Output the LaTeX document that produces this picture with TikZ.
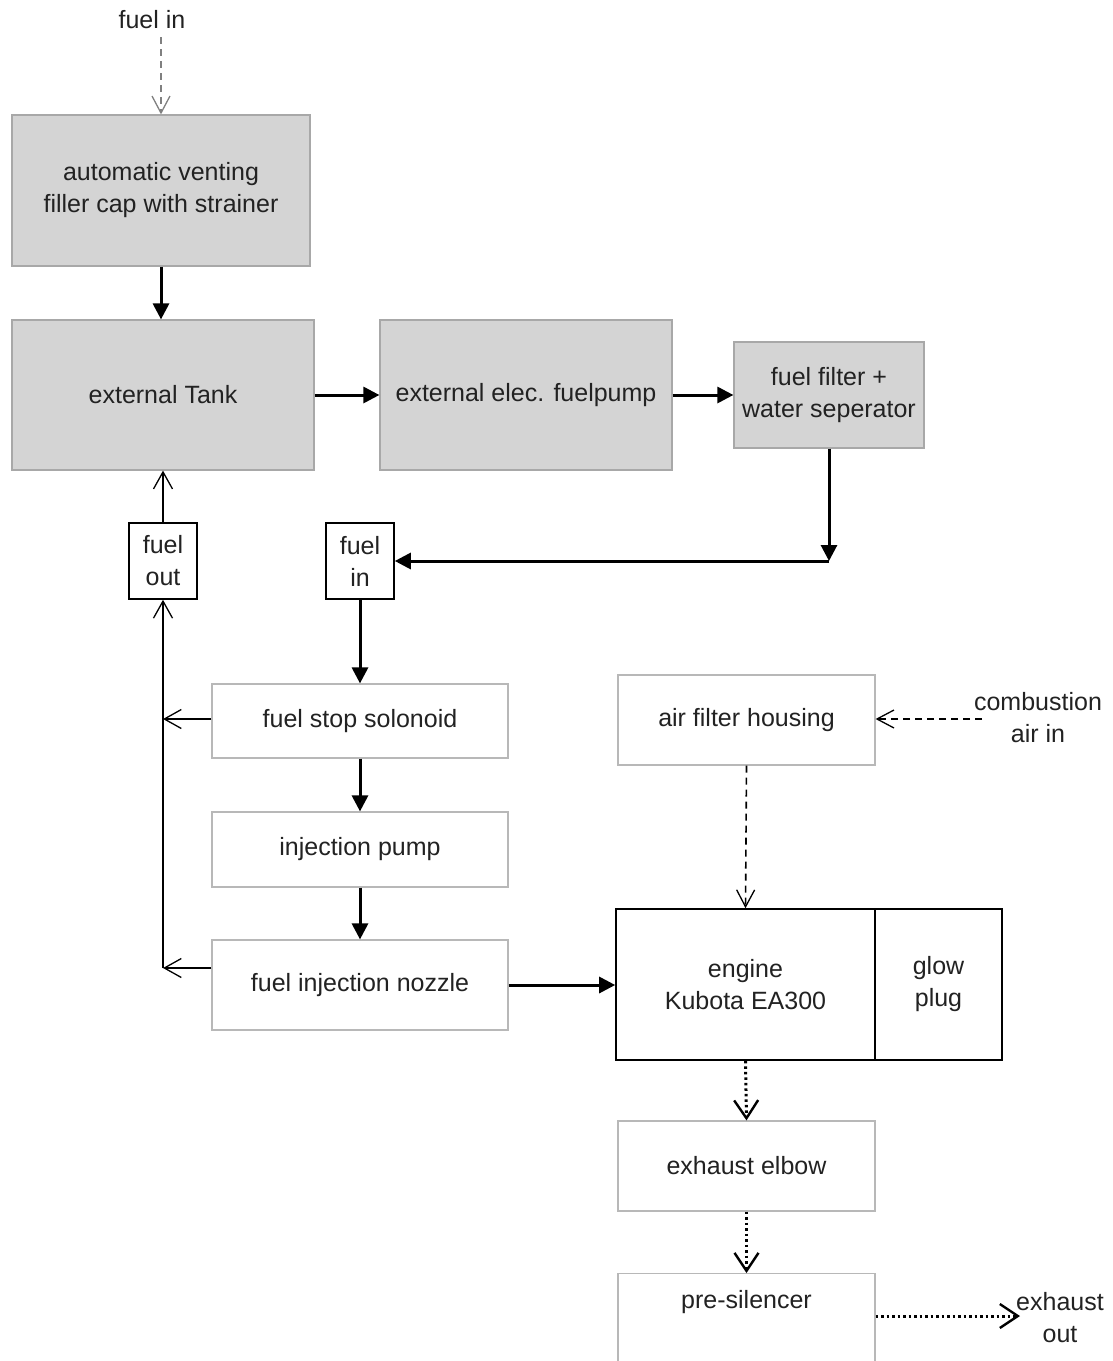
\documentclass[tikz,border=0pt]{standalone}
\usepackage{fontspec}
\setmainfont{Liberation Sans}
\usetikzlibrary{arrows.meta}
\definecolor{boxgray}{HTML}{D4D4D4}
\definecolor{boxedge}{HTML}{A8A8A8}
\definecolor{lightedge}{HTML}{B8B8B8}
\definecolor{txt}{HTML}{222222}
\begin{document}
\begin{tikzpicture}[x=1pt,y=-1pt,
  every node/.style={font=\fontsize{25}{32}\selectfont, text=txt, inner sep=0pt, align=center},
  graybox/.style={draw=boxedge, fill=boxgray, line width=1.2pt, rectangle},
  whitebox/.style={draw=lightedge, fill=white, line width=1.2pt, rectangle},
  blackbox/.style={draw=black, fill=white, line width=1.6pt, rectangle},
  flow/.style={line width=3pt, -{Triangle[length=16pt,width=16pt]}},
  ret/.style={line width=1.5pt, -{Straight Barb[length=17pt,width=19pt,line width=1.3pt]}},
  airflow/.style={line width=1.6pt, dash pattern=on 7pt off 5pt, -{Straight Barb[length=17pt,width=18pt,line width=1.3pt]}},
  exhflow/.style={line width=3pt, dash pattern=on 2.5pt off 3pt, -{Straight Barb[length=18pt,width=24pt,line width=2.4pt]}}
]
\useasboundingbox (0,0) rectangle (1112,1361);

% gray boxes
\node[graybox, minimum width=298pt, minimum height=151pt] (filler) at (161,190.5) {automatic venting\\filler cap with strainer};
\node[graybox, minimum width=302pt, minimum height=150pt] (tank) at (163,395) {external Tank};
\node[graybox, minimum width=292pt, minimum height=150pt] (pump) at (526,395) {external elec. fuelpump};
\node[graybox, minimum width=190pt, minimum height=106pt] (filter) at (829,395) {fuel filter +\\water seperator};

% port boxes
\node[blackbox, minimum width=68pt, minimum height=76pt] (fuelout) at (163,561) {fuel\\out};
\node[blackbox, minimum width=68pt, minimum height=76pt] (fuelin) at (360,561) {fuel\\in};

% fuel chain
\node[whitebox, minimum width=296pt, minimum height=74pt] (stop) at (360,721) {fuel stop solonoid};
\node[whitebox, minimum width=296pt, minimum height=75pt] (injpump) at (360,849.5) {injection pump};
\node[whitebox, minimum width=296pt, minimum height=90pt] (nozzle) at (360,985) {fuel injection nozzle};

% air / engine / exhaust
\node[whitebox, minimum width=257pt, minimum height=90pt] (airfilter) at (746.5,720) {air filter housing};
\node[blackbox, minimum width=259pt, minimum height=151pt] (engine) at (745.5,984.5) {engine\\Kubota EA300};
\node[blackbox, minimum width=127pt, minimum height=151pt] (glow) at (938.5,984.5) {glow\\plug};
\node[whitebox, minimum width=257pt, minimum height=90pt] (elbow) at (746.5,1166) {exhaust elbow};
\node[whitebox, minimum width=257pt, minimum height=180pt, anchor=north] (presil) at (746.5,1273) {};
\node (presiltext) at (746.5,1302) {pre-silencer};

% free labels
\node (fuelintext) at (152,20) {fuel in};
\node (airintext) at (1038,718) {combustion\\air in};
\node (exhouttext) at (1060,1318) {exhaust\\out};

% coordinates
\coordinate (c1) at (829,561);
\coordinate (r1) at (163,719);
\coordinate (r2) at (163,968);
\coordinate (airin) at (982,719);
\coordinate (exout) at (1020,1316);

% main fuel flow
\draw[airflow, draw=gray] (filler.north |- fuelintext.south) ++(0,8) -- (filler.north);
\draw[flow] (filler.south) -- (filler.south |- tank.north);
\draw[flow] (tank.east) -- (pump.west);
\draw[flow] (pump.east) -- (pump.east -| filter.west);
\draw[flow] (filter.south) -- (c1);
\draw[flow] (c1) -- (fuelin.east);
\draw[flow] (fuelin.south) -- (stop.north);
\draw[flow] (stop.south) -- (injpump.north);
\draw[flow] (injpump.south) -- (nozzle.north);
\draw[flow] (nozzle.east) -- (nozzle.east -| engine.west);

% return line
\draw[ret] (r1 -| stop.west) -- (r1);
\draw[ret] (r2 -| nozzle.west) -- (r2);
\draw[ret] (r2) -- (fuelout.south);
\draw[ret] (fuelout.north) -- (tank.south);

% air
\draw[airflow] (airin) -- (airin -| airfilter.east);
\draw[airflow] (airfilter.south) -- (engine.north);

% exhaust
\draw[exhflow] (engine.south) -- (elbow.north);
\draw[exhflow] (elbow.south) -- (presil.north);
\draw[exhflow] (exout -| presil.east) -- (exout);
\end{tikzpicture}
\end{document}
